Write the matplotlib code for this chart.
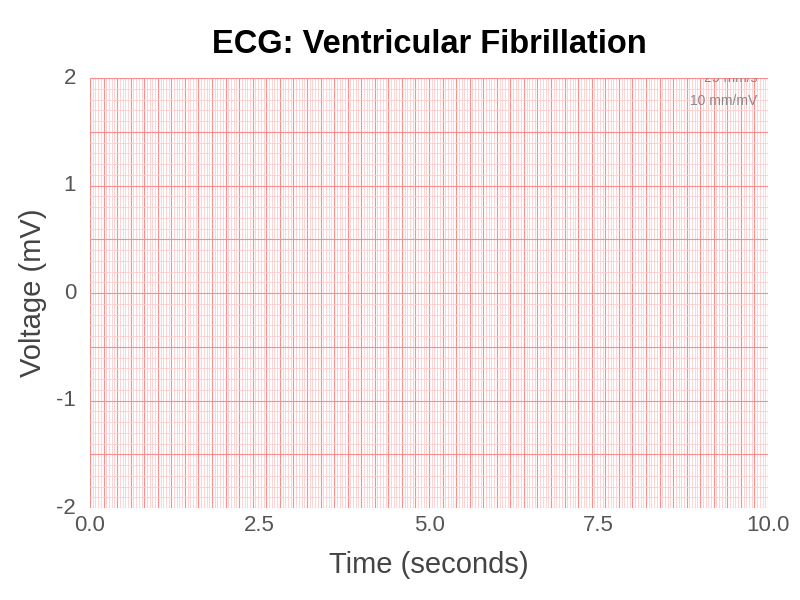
import matplotlib
matplotlib.use("Agg")
import matplotlib.pyplot as plt
import numpy as np

plt.rcParams['font.family'] = ['Liberation Sans', 'DejaVu Sans']

title = "ECG: Ventricular Fibrillation"
x_ticks = [0.0, 2.5, 5.0, 7.5, 10.0]
x_tick_labels = ["0.0", "2.5", "5.0", "7.5", "10.0"]
y_ticks = [-2, -1, 0, 1, 2]
y_tick_labels = ["-2", "-1", "0", "1", "2"]
x_range = [0, 10]
y_range = [-2, 2]
major_x_step = 0.2
minor_x_step = 0.04
major_y_step = 0.5
minor_y_step = 0.1
annotations = ["25 mm/s", "10 mm/mV"]

fig = plt.figure(figsize=(8, 6), dpi=100)
ax = fig.add_axes([90/800, 1 - 508/600, (768-90)/800, (508-78)/600])
ax.set_xlim(*x_range)
ax.set_ylim(*y_range)

ax.set_xticks(np.arange(x_range[0], x_range[1] + 1e-9, major_x_step), minor=False)
ax.set_xticks(np.arange(x_range[0], x_range[1] + 1e-9, minor_x_step), minor=True)
ax.set_yticks(np.arange(y_range[0], y_range[1] + 1e-9, major_y_step), minor=False)
ax.set_yticks(np.arange(y_range[0], y_range[1] + 1e-9, minor_y_step), minor=True)
ax.grid(which='minor', color='#ffcccc', linewidth=0.6)
ax.grid(which='major', color='#ff8c8c', linewidth=0.8)
ax.set_axisbelow(True)
ax.tick_params(which='both', length=0, labelbottom=False, labelleft=False)
for s in ax.spines.values():
    s.set_visible(False)

# tick labels placed at data positions with an offset in points
for t, lab in zip(x_ticks, x_tick_labels):
    ax.annotate(lab, xy=(t, y_range[0]), xycoords='data', xytext=(0, -5),
                textcoords='offset points', ha='center', va='top',
                fontsize=16, color='#555555', annotation_clip=False)
for t, lab in zip(y_ticks, y_tick_labels):
    ax.annotate(lab, xy=(x_range[0], t), xycoords='data', xytext=(-10, 0),
                textcoords='offset points', ha='right', va='center',
                fontsize=16, color='#555555', annotation_clip=False)

cx = (90 + 768) / 2 / 800
fig.text(cx, 0.926, title, ha='center', va='center', fontsize=23.5, fontweight='bold', color='black')
fig.text(cx, 0.058, "Time (seconds)", ha='center', va='center', fontsize=21, color='#444444')
fig.text(0.041, 0.512, "Voltage (mV)", ha='center', va='center', fontsize=21, color='#444444', rotation=90)

t1 = ax.text(0.984, 1.0, annotations[0], transform=ax.transAxes, ha='right', va='center',
             fontsize=10, color='#888888')
t1.set_clip_on(True)
t1.set_clip_box(ax.bbox)
ax.text(0.984, 0.946, annotations[1], transform=ax.transAxes, ha='right', va='center',
        fontsize=10, color='#888888')

fig.savefig("out.png", dpi=100, facecolor='white')
